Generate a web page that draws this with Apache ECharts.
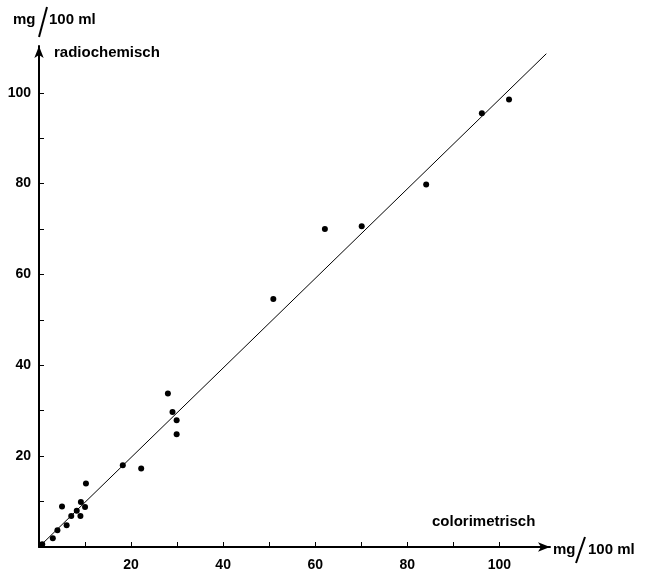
<!DOCTYPE html>
<html><head><meta charset="utf-8">
<script src="https://cdn.jsdelivr.net/npm/echarts@6/dist/echarts.min.js"></script>
<style>html,body{margin:0;padding:0;background:#fff}#c{width:651px;height:573px}</style>
</head><body><div id="c"></div>
<script>
var colorimetrisch = [0.7, 3, 4, 5, 6, 7, 8.2, 9, 9.1, 10, 10.2, 18.2, 22.2, 28, 29, 29.9, 29.9, 50.9, 62.1, 70.1, 84.1, 96.2, 102.1];
var radiochemisch = [0.6, 1.9, 3.7, 8.9, 4.8, 6.8, 8, 6.8, 9.9, 8.8, 14, 18, 17.3, 33.8, 29.7, 27.9, 24.8, 54.6, 70, 70.6, 79.8, 95.5, 98.5];
var fitX = [0, 110.2];
var fitY = [0, 108.6];
var tickValues = [10, 20, 30, 40, 50, 60, 70, 80, 90, 100];
var tickLabels = [20, 40, 60, 80, 100];

var pts = colorimetrisch.map(function (x, i) { return [x, radiochemisch[i]]; });
var fit = fitX.map(function (x, i) { return [x, fitY[i]]; });
var FONT = 'Liberation Sans';

var chart = echarts.init(document.getElementById('c'), null, { renderer: 'canvas' });
function axis(max, margin) {
  return {
    type: 'value', min: 0, max: max,
    splitLine: { show: false },
    axisLine: { show: true, lineStyle: { color: '#000', width: 2 }, symbol: ['none', 'arrow'], symbolSize: [7, 12], symbolOffset: [0, 0] },
    axisTick: { show: true, inside: true, length: 5, customValues: tickValues, lineStyle: { color: '#000', width: 1 } },
    axisLabel: { customValues: tickLabels, color: '#000', fontFamily: FONT, fontWeight: 'bold', fontSize: 14, margin: margin }
  };
}
chart.setOption({
  animation: false,
  backgroundColor: '#fff',
  grid: { left: 39, top: 46, right: 101, bottom: 26, containLabel: false },
  xAxis: axis(111, 11),
  yAxis: axis(110.3, 8),
  series: [
    { type: 'line', data: fit, symbol: 'none', lineStyle: { color: '#000', width: 1 }, silent: true, z: 2 },
    { type: 'scatter', data: pts, symbol: 'circle', symbolSize: 6, itemStyle: { color: '#000', opacity: 1 }, z: 3 }
  ],
  graphic: [
    { type: 'text', left: 13, top: 12, style: { text: 'mg', font: 'bold 15px "' + FONT + '"', fill: '#000' } },
    { type: 'line', shape: { x1: 39, y1: 37, x2: 47, y2: 7 }, style: { stroke: '#000', lineWidth: 2 } },
    { type: 'text', left: 49, top: 12, style: { text: '100 ml', font: 'bold 15px "' + FONT + '"', fill: '#000' } },
    { type: 'text', left: 54, top: 45, style: { text: 'radiochemisch', font: 'bold 15px "' + FONT + '"', fill: '#000' } },
    { type: 'text', left: 432, top: 514, style: { text: 'colorimetrisch', font: 'bold 15px "' + FONT + '"', fill: '#000' } },
    { type: 'text', left: 553, top: 542, style: { text: 'mg', font: 'bold 15px "' + FONT + '"', fill: '#000' } },
    { type: 'line', shape: { x1: 576, y1: 563, x2: 585, y2: 537 }, style: { stroke: '#000', lineWidth: 2 } },
    { type: 'text', left: 588, top: 542, style: { text: '100 ml', font: 'bold 15px "' + FONT + '"', fill: '#000' } }
  ]
});
</script></body></html>
